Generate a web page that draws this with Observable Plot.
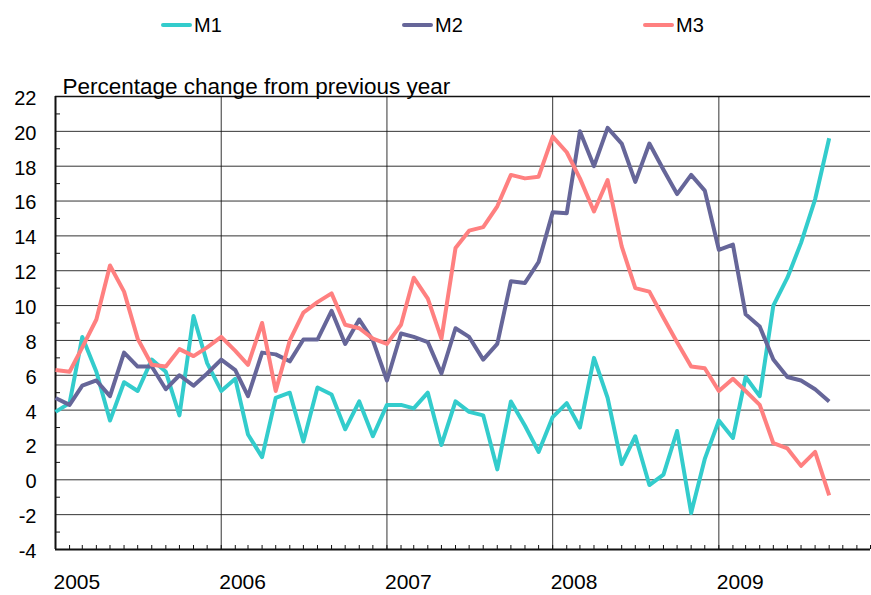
<!DOCTYPE html>
<html>
<head>
<meta charset="utf-8">
<script src="https://cdn.jsdelivr.net/npm/d3@7"></script>
<script src="https://cdn.jsdelivr.net/npm/@observablehq/plot@0.6"></script>
<style>
  html, body { margin: 0; padding: 0; background: #fff; }
  body { width: 871px; height: 595px; overflow: hidden; font-family: "Liberation Sans", Arial, sans-serif; }
  #legend { height: 50px; position: relative; }
  .item { position: absolute; top: 0; height: 50px; display: flex; align-items: center; font-size: 20px; color: #000; }
  .sw { width: 31px; height: 4px; border-radius: 2px; margin-right: 2px; }
  #chart svg { display: block; }
</style>
</head>
<body>
<div id="legend"></div>
<div id="chart"></div>
<script>
// Monthly observations: January 2005 to September 2009
const firstMonth = "2005-01";
const lastMonth = "2009-09";
const seriesNames = ["M1", "M2", "M3"];
const seriesColors = ["#33CCCC", "#666699", "#FF8080"];
const yearLabels = ["2005", "2006", "2007", "2008", "2009"];
const yTicks = [-4, -2, 0, 2, 4, 6, 8, 10, 12, 14, 16, 18, 20, 22];
const title = "Percentage change from previous year";

const m1 = [3.9, 4.4, 8.2, 6.2, 3.4, 5.6, 5.1, 6.9, 6.2, 3.7, 9.4, 6.7,
            5.1, 5.8, 2.6, 1.3, 4.7, 5.0, 2.2, 5.3, 4.9, 2.9, 4.5, 2.5,
            4.3, 4.3, 4.1, 5.0, 2.0, 4.5, 3.9, 3.7, 0.6, 4.5, 3.1, 1.6,
            3.6, 4.4, 3.0, 7.0, 4.7, 0.9, 2.5, -0.3, 0.3, 2.8, -1.9, 1.2,
            3.4, 2.4, 5.9, 4.8, 10.0, 11.6, 13.6, 16.1, 19.6];
const m2 = [4.7, 4.3, 5.4, 5.7, 4.8, 7.3, 6.5, 6.5, 5.2, 6.0, 5.4, 6.1,
            6.9, 6.3, 4.8, 7.3, 7.2, 6.8, 8.05, 8.05, 9.7, 7.8, 9.2, 8.0,
            5.7, 8.4, 8.2, 7.9, 6.1, 8.7, 8.2, 6.9, 7.8, 11.4, 11.3, 12.5,
            15.35, 15.3, 20.0, 18.0, 20.2, 19.3, 17.1, 19.3, 17.8, 16.4, 17.5, 16.6,
            13.2, 13.5, 9.5, 8.8, 6.9, 5.9, 5.7, 5.2, 4.5];
const m3 = [6.3, 6.2, 7.6, 9.2, 12.3, 10.8, 8.1, 6.6, 6.5, 7.5, 7.1, 7.6,
            8.2, 7.4, 6.6, 9.0, 5.1, 8.0, 9.6, 10.2, 10.7, 8.9, 8.7, 8.1,
            7.8, 8.9, 11.6, 10.4, 8.1, 13.3, 14.3, 14.5, 15.7, 17.5, 17.3, 17.4,
            19.7, 18.8, 17.3, 15.4, 17.2, 13.4, 11.0, 10.8, 9.3, 7.9, 6.5, 6.4,
            5.1, 5.8, 5.1, 4.3, 2.1, 1.8, 0.8, 1.6, -0.9];

const parseMonth = d3.utcParse("%Y-%m");
const months = d3.utcMonth.range(parseMonth(firstMonth), d3.utcMonth.offset(parseMonth(lastMonth), 1));
const values = [m1, m2, m3];
const table = seriesNames.flatMap((name, s) => months.map((date, i) => ({series: name, date, value: values[s][i]})));

const xStart = parseMonth("2005-01");
const xEnd = parseMonth("2009-12");
const monthTicks = d3.utcMonth.range(xStart, d3.utcMonth.offset(xEnd, 1));
const yearDates = yearLabels.map(y => d3.utcParse("%Y")(y));
const minorY = yTicks.slice(0, -1).map(v => v + 1);

// Legend
const legend = document.getElementById("legend");
seriesNames.forEach((name, i) => {
  const item = document.createElement("div");
  item.className = "item";
  item.style.left = (161 + i * 241) + "px";
  const sw = document.createElement("div");
  sw.className = "sw";
  sw.style.background = seriesColors[i];
  const t = document.createElement("span");
  t.textContent = name;
  item.appendChild(sw);
  item.appendChild(t);
  legend.appendChild(item);
});

const chart = Plot.plot({
  width: 871,
  height: 545,
  marginTop: 46,
  marginBottom: 46,
  marginLeft: 55,
  marginRight: 1,
  style: {fontFamily: "'Liberation Sans', Arial, sans-serif", fontSize: "20px", color: "#000", background: "#fff", overflow: "visible"},
  x: {type: "utc", domain: [xStart, xEnd], label: null, axis: null},
  y: {domain: [-4, 22], label: null, axis: null},
  color: {domain: seriesNames, range: seriesColors},
  marks: [
    Plot.gridY(yTicks.slice(1), {stroke: "#111", strokeOpacity: 0.85, strokeWidth: 1}),
    Plot.gridX(yearDates.slice(1), {stroke: "#111", strokeOpacity: 0.85, strokeWidth: 1}),
    Plot.ruleY([22], {stroke: "#111", strokeWidth: 1.5}),
    Plot.axisY({ticks: yTicks, tickSize: 0, tickPadding: 19, fontSize: 20, dy: 2, tickFormat: d => String(d)}),
    Plot.axisY({ticks: minorY, tickSize: -5, text: null, stroke: "#111"}),
    Plot.axisX({ticks: monthTicks, tickSize: -4, text: null, stroke: "#111"}),
    Plot.axisX({ticks: yearDates, tickSize: 0, tickPadding: 25, tickFormat: d3.utcFormat("%Y"), textAnchor: "start", dx: -2, fontSize: 21}),
    Plot.ruleX([xStart], {stroke: "#111", strokeWidth: 2}),
    Plot.ruleY([-4], {stroke: "#111", strokeWidth: 2}),
    Plot.line(table, {x: "date", y: "value", z: "series", stroke: "series", strokeWidth: 4, strokeLinejoin: "round", strokeLinecap: "butt"}),
    Plot.text([title], {frameAnchor: "top-left", textAnchor: "start", lineAnchor: "bottom", dx: 7, dy: -2.5, fontSize: 22.5})
  ]
});
document.getElementById("chart").appendChild(chart);
</script>
</body>
</html>
